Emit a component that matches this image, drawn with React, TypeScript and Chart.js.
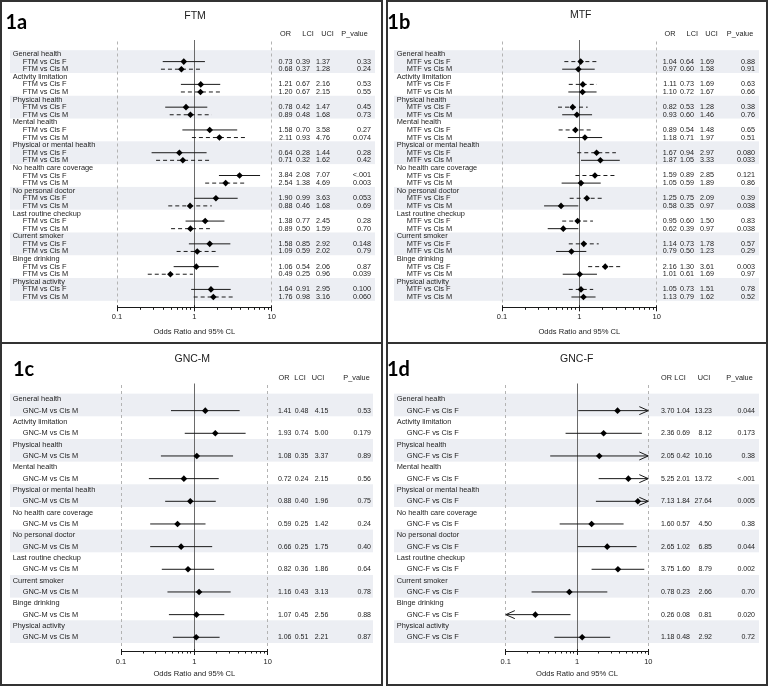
import React, { useEffect, useRef } from 'react';
import { Chart, registerables } from 'chart.js';

Chart.register(...registerables);

// ---------------- data ----------------
const CATEGORIES = [
  'General health',
  'Activity limitation',
  'Physical health',
  'Mental health',
  'Physical or mental health',
  'No health care coverage',
  'No personal doctor',
  'Last routine checkup',
  'Current smoker',
  'Binge drinking',
  'Physical activity',
];
const TABLE_HEADERS = ['OR', 'LCI', 'UCI', 'P_value'];
const X_TICKS = [0.1, 0.2, 0.3, 0.4, 0.5, 0.6, 0.7, 0.8, 0.9, 1, 2, 3, 4, 5, 6, 7, 8, 9, 10];
const X_MAJOR_TICKS = [0.1, 1, 10];
const X_TICK_LABELS = ['0.1', '1', '10'];
const AXIS_TITLE = 'Odds Ratio and 95% CL';

// FTM vs Cis F
const FTM_CISF_OR = [0.73, 1.21, 0.78, 1.58, 0.64, 3.84, 1.9, 1.38, 1.58, 1.06, 1.64];
const FTM_CISF_LCI = [0.39, 0.67, 0.42, 0.7, 0.28, 2.08, 0.99, 0.77, 0.85, 0.54, 0.91];
const FTM_CISF_UCI = [1.37, 2.16, 1.47, 3.58, 1.44, 7.07, 3.63, 2.45, 2.92, 2.06, 2.95];
const FTM_CISF_P = ['0.33', '0.53', '0.45', '0.27', '0.28', '<.001', '0.053', '0.28', '0.148', '0.87', '0.100'];
// FTM vs Cis M
const FTM_CISM_OR = [0.68, 1.2, 0.89, 2.11, 0.71, 2.54, 0.88, 0.89, 1.09, 0.49, 1.76];
const FTM_CISM_LCI = [0.37, 0.67, 0.48, 0.93, 0.32, 1.38, 0.46, 0.5, 0.59, 0.25, 0.98];
const FTM_CISM_UCI = [1.28, 2.15, 1.68, 4.76, 1.62, 4.69, 1.68, 1.59, 2.02, 0.96, 3.16];
const FTM_CISM_P = ['0.24', '0.55', '0.73', '0.074', '0.42', '0.003', '0.69', '0.70', '0.79', '0.039', '0.060'];
// MTF vs Cis F
const MTF_CISF_OR = [1.04, 1.11, 0.82, 0.89, 1.67, 1.59, 1.25, 0.95, 1.14, 2.16, 1.05];
const MTF_CISF_LCI = [0.64, 0.73, 0.53, 0.54, 0.94, 0.89, 0.75, 0.6, 0.73, 1.3, 0.73];
const MTF_CISF_UCI = [1.69, 1.69, 1.28, 1.48, 2.97, 2.85, 2.09, 1.5, 1.78, 3.61, 1.51];
const MTF_CISF_P = ['0.88', '0.63', '0.38', '0.65', '0.080', '0.121', '0.39', '0.83', '0.57', '0.003', '0.78'];
// MTF vs Cis M
const MTF_CISM_OR = [0.97, 1.1, 0.93, 1.18, 1.87, 1.05, 0.58, 0.62, 0.79, 1.01, 1.13];
const MTF_CISM_LCI = [0.6, 0.72, 0.6, 0.71, 1.05, 0.59, 0.35, 0.39, 0.5, 0.61, 0.79];
const MTF_CISM_UCI = [1.58, 1.67, 1.46, 1.97, 3.33, 1.89, 0.97, 0.97, 1.23, 1.69, 1.62];
const MTF_CISM_P = ['0.91', '0.66', '0.76', '0.51', '0.033', '0.86', '0.038', '0.038', '0.29', '0.97', '0.52'];
// GNC-M vs Cis M
const GNCM_CISM_OR = [1.41, 1.93, 1.08, 0.72, 0.88, 0.59, 0.66, 0.82, 1.16, 1.07, 1.06];
const GNCM_CISM_LCI = [0.48, 0.74, 0.35, 0.24, 0.4, 0.25, 0.25, 0.36, 0.43, 0.45, 0.51];
const GNCM_CISM_UCI = [4.15, 5.0, 3.37, 2.15, 1.96, 1.42, 1.75, 1.86, 3.13, 2.56, 2.21];
const GNCM_CISM_P = ['0.53', '0.179', '0.89', '0.56', '0.75', '0.24', '0.40', '0.64', '0.78', '0.88', '0.87'];
// GNC-F vs Cis F
const GNCF_CISF_OR = [3.7, 2.36, 2.05, 5.25, 7.13, 1.6, 2.65, 3.75, 0.78, 0.26, 1.18];
const GNCF_CISF_LCI = [1.04, 0.69, 0.42, 2.01, 1.84, 0.57, 1.02, 1.6, 0.23, 0.08, 0.48];
const GNCF_CISF_UCI = [13.23, 8.12, 10.16, 13.72, 27.64, 4.5, 6.85, 8.79, 2.66, 0.81, 2.92];
const GNCF_CISF_P = ['0.044', '0.173', '0.38', '<.001', '0.005', '0.38', '0.044', '0.002', '0.70', '0.020', '0.72'];

// ---------------- styling / layout ----------------
const X_MIN = 0.1;
const X_MAX = 10;
const FONT = '"Liberation Sans", Arial, sans-serif';
const TEXT = '#1c1c1c';
const BAND = '#eceef3';
const AXIS_H = 30;

type Series = { label: string; or: number[]; lci: number[]; uci: number[]; p: string[]; dashed: boolean };
type Layout = {
  left: number; top: number; width: number; height: number;
  xLo: number; xHi: number; plotTop: number; axisY: number; row0: number; rowStep: number;
  labelX: number; labelY: number; titleX: number; titleY: number; headerY: number;
  headerX: number[]; valueX: number[]; rowLabelX: number; subLabelX: number;
  bandX0: number; bandX1: number; tickPad: number; titlePadB: number; valueFont: number;
};
type PanelCfg = { id: string; title: string; series: Series[]; layout: Layout };

const PANELS: PanelCfg[] = [
  {
    id: '1a',
    title: 'FTM',
    series: [
      { label: 'FTM vs Cis F', or: FTM_CISF_OR, lci: FTM_CISF_LCI, uci: FTM_CISF_UCI, p: FTM_CISF_P, dashed: false },
      { label: 'FTM vs Cis M', or: FTM_CISM_OR, lci: FTM_CISM_LCI, uci: FTM_CISM_UCI, p: FTM_CISM_P, dashed: true },
    ],
    layout: {
      left: 0, top: 0, width: 383, height: 344,
      xLo: 117, xHi: 271.7, plotTop: 41.5, axisY: 307.3, row0: 54, rowStep: 7.594,
      labelX: 5.5, labelY: 29, titleX: 195, titleY: 16, headerY: 34,
      headerX: [285.5, 308, 327.5, 354.5], valueX: [292.5, 310, 330, 371],
      rowLabelX: 12.7, subLabelX: 22.7, bandX0: 10, bandX1: 375, tickPad: 2.7, titlePadB: 1, valueFont: 7.2,
    },
  },
  {
    id: '1b',
    title: 'MTF',
    series: [
      { label: 'MTF vs Cis F', or: MTF_CISF_OR, lci: MTF_CISF_LCI, uci: MTF_CISF_UCI, p: MTF_CISF_P, dashed: true },
      { label: 'MTF vs Cis M', or: MTF_CISM_OR, lci: MTF_CISM_LCI, uci: MTF_CISM_UCI, p: MTF_CISM_P, dashed: false },
    ],
    layout: {
      left: 386, top: 0, width: 382, height: 344,
      xLo: 116, xHi: 270.7, plotTop: 41.5, axisY: 307.3, row0: 54, rowStep: 7.594,
      labelX: 1.3, labelY: 29.3, titleX: 194.7, titleY: 15.5, headerY: 34,
      headerX: [284, 306.3, 325.5, 354], valueX: [290.7, 308, 328, 369],
      rowLabelX: 10.7, subLabelX: 20.7, bandX0: 8, bandX1: 373, tickPad: 2.7, titlePadB: 1, valueFont: 7.2,
    },
  },
  {
    id: '1c',
    title: 'GNC-M',
    series: [
      { label: 'GNC-M vs Cis M', or: GNCM_CISM_OR, lci: GNCM_CISM_LCI, uci: GNCM_CISM_UCI, p: GNCM_CISM_P, dashed: false },
    ],
    layout: {
      left: 0, top: 342, width: 383, height: 344,
      xLo: 121, xHi: 267.7, plotTop: 43, axisY: 309, row0: 57.3, rowStep: 11.333,
      labelX: 13, labelY: 33.7, titleX: 192.3, titleY: 17, headerY: 36.3,
      headerX: [284, 300, 318, 356.5], valueX: [291.5, 308.3, 328.3, 371],
      rowLabelX: 12.7, subLabelX: 22.7, bandX0: 10, bandX1: 373, tickPad: 3.7, titlePadB: 2.4, valueFont: 7.0,
    },
  },
  {
    id: '1d',
    title: 'GNC-F',
    series: [
      { label: 'GNC-F vs Cis F', or: GNCF_CISF_OR, lci: GNCF_CISF_LCI, uci: GNCF_CISF_UCI, p: GNCF_CISF_P, dashed: false },
    ],
    layout: {
      left: 386, top: 342, width: 382, height: 344,
      xLo: 119.8, xHi: 262.3, plotTop: 43, axisY: 309, row0: 57.3, rowStep: 11.333,
      labelX: 1, labelY: 33.7, titleX: 190.7, titleY: 17, headerY: 36.3,
      headerX: [280.5, 294, 318, 353.5], valueX: [288.5, 304, 326, 369],
      rowLabelX: 10.7, subLabelX: 20.7, bandX0: 8, bandX1: 373, tickPad: 3.7, titlePadB: 2.4, valueFont: 7.0,
    },
  },
];

const crisp = (v: number) => Math.round(v - 0.5) + 0.5;

function ForestPanel({ cfg }: { cfg: PanelCfg }) {
  const ref = useRef<HTMLCanvasElement>(null);

  useEffect(() => {
    const canvas = ref.current;
    if (!canvas) return;
    const L = cfg.layout;
    const per = cfg.series.length + 1;
    const rowOf = (g: number, s: number) => g * per + 1 + s;

    const datasets: any[] = [];
    cfg.series.forEach((s, si) => {
      datasets.push({
        label: s.label + ' OR',
        data: s.or.map((v, g) => ({ x: v, y: rowOf(g, si) })),
        pointStyle: 'rectRot',
        pointRadius: 3.3,
        pointHoverRadius: 3.3,
        backgroundColor: '#000',
        borderColor: '#000',
        borderWidth: 0,
        order: 1,
      });
      CATEGORIES.forEach((_, g) => {
        datasets.push({
          label: s.label + ' CI ' + g,
          data: [
            { x: Math.max(s.lci[g], X_MIN), y: rowOf(g, si) },
            { x: Math.min(s.uci[g], X_MAX), y: rowOf(g, si) },
          ],
          showLine: true,
          borderColor: '#1a1a1a',
          borderWidth: 1,
          borderDash: s.dashed ? [4, 3] : [],
          pointRadius: 0,
          pointHoverRadius: 0,
          order: 2,
        });
      });
    });

    const yMin = (L.plotTop - L.row0) / L.rowStep;
    const yMax = (L.axisY - L.row0) / L.rowStep;

    const deco = {
      id: 'forestDeco',
      beforeDatasetsDraw(chart: any) {
        const { ctx, chartArea } = chart;
        const xs = chart.scales.x;
        const ys = chart.scales.y;
        ctx.save();
        ctx.fillStyle = BAND;
        CATEGORIES.forEach((_, g) => {
          if (g % 2 !== 0) return;
          const y0 = ys.getPixelForValue(g * per - 0.5);
          const y1 = ys.getPixelForValue(g * per + per - 0.5);
          ctx.fillRect(L.bandX0, y0, L.bandX1 - L.bandX0, y1 - y0);
        });
        ctx.lineWidth = 1;
        [X_MIN, X_MAX].forEach((v) => {
          const px = crisp(xs.getPixelForValue(v));
          ctx.strokeStyle = '#b3b3b3';
          ctx.setLineDash([3, 3]);
          ctx.beginPath();
          ctx.moveTo(px, chartArea.top);
          ctx.lineTo(px, chartArea.bottom);
          ctx.stroke();
        });
        ctx.setLineDash([]);
        ctx.strokeStyle = '#6a6a6a';
        const p1 = crisp(xs.getPixelForValue(1));
        ctx.beginPath();
        ctx.moveTo(p1, chartArea.top - 1.5);
        ctx.lineTo(p1, chartArea.bottom);
        ctx.stroke();
        ctx.restore();
      },
      afterDatasetsDraw(chart: any) {
        const { ctx } = chart;
        const xs = chart.scales.x;
        const ys = chart.scales.y;
        ctx.save();
        ctx.strokeStyle = '#1a1a1a';
        ctx.lineWidth = 1;
        cfg.series.forEach((s, si) => {
          CATEGORIES.forEach((_, g) => {
            const py = ys.getPixelForValue(rowOf(g, si));
            if (s.uci[g] > X_MAX) {
              const px = xs.getPixelForValue(X_MAX);
              ctx.beginPath();
              ctx.moveTo(px - 9, py - 4);
              ctx.lineTo(px, py);
              ctx.lineTo(px - 9, py + 4);
              ctx.stroke();
            }
            if (s.lci[g] < X_MIN) {
              const px = xs.getPixelForValue(X_MIN);
              ctx.beginPath();
              ctx.moveTo(px + 9, py - 4);
              ctx.lineTo(px, py);
              ctx.lineTo(px + 9, py + 4);
              ctx.stroke();
            }
          });
        });
        ctx.restore();
      },
      afterDraw(chart: any) {
        const { ctx, chartArea } = chart;
        const xs = chart.scales.x;
        const ys = chart.scales.y;
        ctx.save();
        // longer major tick marks
        ctx.strokeStyle = '#1a1a1a';
        ctx.lineWidth = 1;
        X_MAJOR_TICKS.forEach((v) => {
          const px = crisp(xs.getPixelForValue(v));
          ctx.beginPath();
          ctx.moveTo(px, chartArea.bottom - 2);
          ctx.lineTo(px, chartArea.bottom + 4);
          ctx.stroke();
        });
        ctx.fillStyle = '#000';
        // panel label
        ctx.font = 'bold 20px Lato, "Open Sans", sans-serif';
        ctx.textAlign = 'left';
        ctx.textBaseline = 'alphabetic';
        ctx.fillText(cfg.id, L.labelX, L.labelY);
        // title
        ctx.fillStyle = TEXT;
        ctx.font = '10.5px ' + FONT;
        ctx.textAlign = 'center';
        ctx.textBaseline = 'middle';
        ctx.fillText(cfg.title, L.titleX, L.titleY);
        // table header
        ctx.font = '7.3px ' + FONT;
        TABLE_HEADERS.forEach((h, i) => ctx.fillText(h, L.headerX[i], L.headerY));
        // rows
        CATEGORIES.forEach((cat, g) => {
          ctx.font = '7.4px ' + FONT;
          ctx.textAlign = 'left';
          ctx.fillText(cat, L.rowLabelX, ys.getPixelForValue(g * per));
          cfg.series.forEach((s, si) => {
            const py = ys.getPixelForValue(rowOf(g, si));
            ctx.font = '7.4px ' + FONT;
            ctx.textAlign = 'left';
            ctx.fillText(s.label, L.subLabelX, py);
            ctx.font = L.valueFont + 'px ' + FONT;
            ctx.textAlign = 'right';
            ctx.fillText(s.or[g].toFixed(2), L.valueX[0], py);
            ctx.fillText(s.lci[g].toFixed(2), L.valueX[1], py);
            ctx.fillText(s.uci[g].toFixed(2), L.valueX[2], py);
            ctx.fillText(s.p[g], L.valueX[3], py);
          });
        });
        ctx.restore();
      },
    };

    const chart = new Chart(canvas, {
      type: 'scatter',
      data: { datasets },
      options: {
        animation: false,
        responsive: false,
        maintainAspectRatio: false,
        devicePixelRatio: 1,
        events: [],
        layout: {
          padding: {
            left: L.xLo,
            right: L.width - L.xHi,
            top: L.plotTop,
            bottom: L.height - L.axisY - AXIS_H,
          },
        },
        plugins: { legend: { display: false }, tooltip: { enabled: false }, title: { display: false } },
        scales: {
          x: {
            type: 'logarithmic',
            position: 'bottom',
            min: X_MIN,
            max: X_MAX,
            afterBuildTicks: (s: any) => {
              s.ticks = X_TICKS.map((v) => ({ value: v }));
            },
            afterFit: (s: any) => {
              s.height = AXIS_H;
            },
            ticks: {
              autoSkip: false,
              maxRotation: 0,
              minRotation: 0,
              padding: L.tickPad,
              color: TEXT,
              font: { family: FONT, size: 7.5 },
              callback: (value: any) => {
                const i = X_MAJOR_TICKS.findIndex((m) => Math.abs(m - Number(value)) < 1e-9);
                return i >= 0 ? X_TICK_LABELS[i] : '';
              },
            },
            grid: { drawOnChartArea: false, drawTicks: true, tickLength: 2.5, color: '#1a1a1a', lineWidth: 1 },
            border: { display: true, color: '#1a1a1a', width: 1 },
            title: {
              display: true,
              text: AXIS_TITLE,
              color: TEXT,
              font: { family: FONT, size: 7.6 },
              padding: { top: 0, bottom: L.titlePadB },
            },
          },
          y: { type: 'linear', display: false, reverse: true, min: yMin, max: yMax },
        },
      } as any,
      plugins: [deco],
    });
    return () => chart.destroy();
  }, [cfg]);

  const L = cfg.layout;
  return (
    <div style={{ position: 'absolute', left: L.left, top: L.top, width: L.width, height: L.height }}>
      <canvas ref={ref} width={L.width} height={L.height} style={{ display: 'block', width: L.width, height: L.height }} />
      <div
        style={{
          position: 'absolute',
          left: 0,
          top: 0,
          width: L.width,
          height: L.height,
          border: '2px solid #333',
          boxSizing: 'border-box',
          pointerEvents: 'none',
        }}
      />
    </div>
  );
}

export default function App() {
  useEffect(() => {
    document.body.style.margin = '0';
  }, []);
  return (
    <div style={{ position: 'absolute', left: 0, top: 0, width: 768, height: 688, background: '#fff', overflow: 'hidden' }}>
      {PANELS.map((p) => (
        <ForestPanel key={p.id} cfg={p} />
      ))}
    </div>
  );
}
